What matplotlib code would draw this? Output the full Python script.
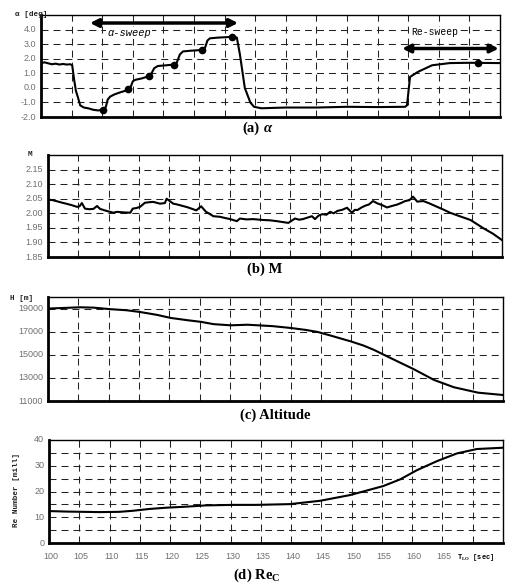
import numpy as np
import matplotlib
matplotlib.use("Agg")
import matplotlib.pyplot as plt

# (a) angle of attack
t_alpha = [100, 100.6, 101.2, 101.8, 102.4, 103, 103.6, 104.2, 104.8, 105.1, 105.4, 105.7, 106.0,
           106.4, 107, 107.7, 108.5, 109.3, 110.2, 110.6, 110.9, 111.3, 112, 113, 113.8, 114.2,
           114.6, 115.0, 115.4, 116.5, 117.6, 118.0, 118.5, 119.1, 120.5, 121.7, 122.2, 122.7,
           123.2, 124.5, 126.3, 126.8, 127.2, 127.6, 129, 131.2, 132.0, 132.5, 133.3, 134.2,
           134.8, 136, 140, 145, 150, 155, 159.5, 159.8, 160.3, 161.6, 163.9, 166.8, 170, 175]
alpha = [1.7, 1.75, 1.68, 1.62, 1.66, 1.6, 1.64, 1.6, 1.62, 1.55, 0.6, -0.2, -0.6,
         -1.2, -1.35, -1.4, -1.5, -1.55, -1.5, -1.3, -0.8, -0.6, -0.45, -0.3, -0.2, -0.1,
         0.0, 0.45, 0.55, 0.65, 0.8, 0.95, 1.35, 1.5, 1.55, 1.6, 1.75, 2.3,
         2.5, 2.55, 2.6, 2.75, 3.25, 3.4, 3.45, 3.5, 3.45, 2.3, 0.0, -1.0,
         -1.3, -1.4, -1.35, -1.35, -1.3, -1.32, -1.3, -1.2, 0.75, 1.1, 1.55, 1.7, 1.72, 1.7]
t_dots = [110.2, 114.2, 117.6, 121.7, 126.3, 131.2, 171.4]
alpha_dots = [-1.5, -0.1, 0.8, 1.6, 2.6, 3.5, 1.7]

# (b) Mach number
t_mach = [100, 100.8, 101.7, 102.4, 103, 103.9, 104.8, 105.2, 105.6, 106.1, 106.8, 107.5, 108.1,
          108.6, 109.7, 110.8, 111.4, 112.5, 113.6, 114, 114.6, 115.2, 116, 116.7, 117.4, 118.5,
          119.3, 119.6, 120.7, 121.4, 122.1, 123, 123.7, 124.5, 125.3, 126.1, 126.7, 127.3, 128.4,
          129.2, 130.1, 131.2, 131.7, 132.8, 133.9, 135.5, 136.6, 137.8, 139.7, 140.8, 141.5,
          142.1, 143.0, 143.6, 144.1, 144.7, 145.3, 146.0, 146.6, 147.2, 147.8, 148.6, 149.4,
          150.2, 150.7, 151.1, 151.8, 152.4, 153.0, 153.7, 154.4, 155.2, 156, 156.8, 157.7,
          158.4, 159, 159.7, 160.3, 161, 162, 163, 164.3, 165.4, 166.4, 168, 169.8, 171.9, 173.5, 175]
mach = [2.047, 2.045, 2.04, 2.036, 2.033, 2.028, 2.022, 2.024, 2.035, 2.016, 2.014, 2.015, 2.025,
        2.015, 2.008, 2.002, 2.005, 2.003, 2.002, 2.016, 2.018, 2.022, 2.036, 2.038, 2.039, 2.033,
        2.035, 2.05, 2.033, 2.03, 2.026, 2.021, 2.016, 2.01, 2.024, 2.005, 1.998, 1.99, 1.988,
        1.984, 1.98, 1.973, 1.982, 1.979, 1.98, 1.977, 1.976, 1.973, 1.967, 1.982, 1.978,
        1.98, 1.986, 1.99, 1.98, 1.992, 1.997, 1.995, 2.005, 2.0, 2.008, 2.012, 2.019,
        2.002, 2.012, 2.011, 2.02, 2.026, 2.03, 2.042, 2.034, 2.028, 2.02, 2.025, 2.03,
        2.036, 2.042, 2.045, 2.057, 2.04, 2.042, 2.034, 2.022, 2.012, 2.002, 1.99, 1.977, 1.949, 1.93, 1.908]

# (c) altitude
t_alt = [100, 102.5, 105.3, 107.5, 110.2, 113, 115.2, 118, 120.2, 123, 125.2, 127.3, 130.1,
         132.9, 134.6, 137, 140, 142.5, 144.5, 147, 149.9, 152, 153.7, 156.5, 160.3, 163.6,
         166.9, 170.9, 175]
alt = [19000, 19050, 19110, 19080, 18950, 18850, 18700, 18450, 18190, 17990, 17850, 17650, 17550,
       17600, 17550, 17480, 17320, 17150, 16970, 16600, 16160, 15800, 15430, 14710, 13750, 12830,
       12190, 11720, 11520]

# (d) Reynolds number
t_re = [100, 103, 108.4, 111.6, 113.8, 116.5, 119.3, 122.6, 125.9, 130.3, 134.2, 139.8, 144.8,
        149.7, 155.2, 158, 160.8, 164.1, 167.4, 170.7, 175]
re = [12.4, 12.2, 12.0, 12.1, 12.5, 13.2, 13.7, 14.1, 14.6, 14.8, 14.8, 15.1, 16.4,
      18.6, 22.1, 24.7, 28.3, 31.8, 34.8, 36.5, 37.0]

x_ticks = [100, 105, 110, 115, 120, 125, 130, 135, 140, 145, 150, 155, 160, 165]

plt.rcParams["mathtext.fontset"] = "custom"
plt.rcParams["mathtext.rm"] = "Liberation Serif:bold"
plt.rcParams["mathtext.bf"] = "Liberation Serif:bold"

W, H = 507, 588
fig = plt.figure(figsize=(W / 100, H / 100), dpi=100)


def box(l, r, t, b):
    return [l / W, 1 - b / H, (r - l) / W, (b - t) / H]


tick_font = dict(family="Liberation Sans", size=6.5, color="#707070")
lab_font = dict(family="Liberation Mono", size=5.5, weight="bold", color="#222222")
cap_font = dict(family="Liberation Serif", size=10.5, weight="bold")


def style(ax, yticks, ygrid, yfmt):
    ax.set_xlim(100, 175)
    ax.set_xticks(np.arange(105, 175, 5))
    ax.set_xticklabels([])
    ax.set_yticks(ygrid)
    ax.set_yticklabels([])
    ax.tick_params(length=0)
    ax.grid(True, color="#222222", lw=0.75, ls=(0, (6.7, 4.8)))
    for s in ["left", "bottom"]:
        ax.spines[s].set_linewidth(2.0)
    for s in ["top", "right"]:
        ax.spines[s].set_linewidth(1.0)
    for v in yticks:
        ax.text(99.2, v, yfmt(v), ha="right", va="center", **tick_font)


# (a)
ax = fig.add_axes(box(41, 500, 15, 117))
ax.set_ylim(-2, 5)
style(ax, np.arange(-2, 5), np.arange(-1, 5), lambda v: f"{v:.1f}")
ax.plot(t_alpha, alpha, color="black", lw=1.5)
ax.plot(t_dots, alpha_dots, "o", color="black", ms=4.5)
ax.annotate("", xy=(108, 4.45), xytext=(132.2, 4.45),
            arrowprops=dict(arrowstyle="<|-|>", color="black", lw=2.5, mutation_scale=12,
                            shrinkA=0, shrinkB=0))
ax.text(110.8, 3.75, "α-sweep", ha="left", va="center", family="Liberation Mono",
        style="italic", size=7.5, bbox=dict(fc="white", ec="none", pad=0.5))
ax.annotate("", xy=(159, 2.7), xytext=(174.8, 2.7),
            arrowprops=dict(arrowstyle="<|-|>", color="black", lw=2.5, mutation_scale=12,
                            shrinkA=0, shrinkB=0))
ax.text(164.4, 3.8, "Re-sweep", ha="center", va="center", family="Liberation Mono",
        size=7, bbox=dict(fc="white", ec="none", pad=0.5))
fig.text(15 / W, 1 - 15 / H, "α [deg]", ha="left", va="center", **lab_font)
fig.text(242 / W, 1 - 128 / H, "(a)", ha="left", va="center", **cap_font)
fig.text(264 / W, 1 - 128 / H, "α", ha="left", va="center", style="italic", **cap_font)

# (b)
ax = fig.add_axes(box(48, 502, 155, 257))
ax.set_ylim(1.85, 2.20)
style(ax, np.arange(1.85, 2.16, 0.05), np.arange(1.90, 2.16, 0.05), lambda v: f"{v:.2f}")
ax.plot(t_mach, mach, color="black", lw=1.5)
fig.text(30 / W, 1 - 155 / H, "M", ha="center", va="center", **lab_font)
fig.text(247 / W, 1 - 269 / H, "(b) M", ha="left", va="center", **cap_font)

# (c)
ax = fig.add_axes(box(48, 503, 297, 401))
ax.set_ylim(11000, 20000)
style(ax, np.arange(11000, 19001, 2000), np.arange(13000, 19001, 2000), lambda v: f"{v:.0f}")
ax.plot(t_alt, alt, color="black", lw=1.5)
fig.text(10 / W, 1 - 298 / H, "H [m]", ha="left", va="center",
         bbox=dict(fc="white", ec="none", pad=0.3), **lab_font)
fig.text(240 / W, 1 - 415 / H, "(c) Altitude", ha="left", va="center", **cap_font)

# (d)
ax = fig.add_axes(box(49, 503, 440, 543))
ax.set_ylim(0, 40)
style(ax, np.arange(0, 41, 10), np.arange(5, 40, 5), lambda v: f"{v:.0f}")
ax.plot(t_re, re, color="black", lw=1.5)
for v in x_ticks:
    ax.text(v + 0.3, -3.5, str(v), ha="center", va="top", **tick_font)
ax.text(170.5, -3.5, r"T$_{\rm LO}$ [sec]", ha="center", va="top", family="Liberation Mono",
        size=5, weight="bold")
fig.text(17 / W, 1 - 490 / H, "Re Number [mill]", ha="center", va="center", rotation=90, **lab_font)
fig.text(233 / W, 1 - 575 / H, r"(d) Re$_{\mathrm{C}}$", ha="left", va="center", **cap_font)

fig.savefig("out.png", dpi=100)
